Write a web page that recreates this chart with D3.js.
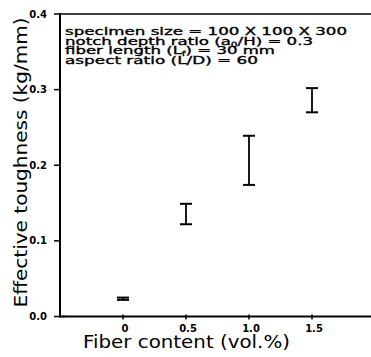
<!DOCTYPE html>
<html>
<head>
<meta charset="utf-8">
<script src="https://cdn.jsdelivr.net/npm/d3@7"></script>
<style>
  body { margin: 0; background: #fff; }
  svg { display: block; }
  text { font-family: "DejaVu Sans", sans-serif; fill: #000; }
</style>
</head>
<body>
<div id="chart"></div>
<script>
// fiber content (vol.%) and toughness range (kg/mm)
var fiberContent = [0, 0.5, 1.0, 1.5];
var toughLow = [0.022, 0.122, 0.174, 0.270];
var toughHigh = [0.025, 0.149, 0.239, 0.302];
var xTicks = [0, 0.5, 1.0, 1.5];
var xTickLabels = ["0", "0.5", "1.0", "1.5"];
var yTicks = [0.0, 0.1, 0.2, 0.3, 0.4];

var width = 371, height = 357;

var svg = d3.select("#chart")
  .append("svg")
  .attr("width", width)
  .attr("height", height);

var x = d3.scaleLinear()
  .domain([-0.5, 2.0])
  .range([60, 375]);

var y = d3.scaleLinear()
  .domain([0, 0.4])
  .range([316.5, 14]);

var x0 = 60;

// frame lines: left, bottom, top
svg.append("line")
  .attr("x1", x0).attr("x2", x0)
  .attr("y1", y(0.4) - 1).attr("y2", y(0) + 1)
  .attr("stroke", "#000").attr("stroke-width", 2);
svg.append("line")
  .attr("x1", x0).attr("x2", width)
  .attr("y1", y(0)).attr("y2", y(0))
  .attr("stroke", "#000").attr("stroke-width", 2);
svg.append("line")
  .attr("x1", x0).attr("x2", width)
  .attr("y1", y(0.4)).attr("y2", y(0.4))
  .attr("stroke", "#000").attr("stroke-width", 1.5);

// y ticks
var yAxis = svg.append("g");
yAxis.selectAll("line")
  .data(yTicks)
  .enter()
  .append("line")
  .attr("x1", x0 - 6).attr("x2", function (d) { return d == 0 ? x0 + 5 : x0; })
  .attr("y1", function (d) { return y(d); })
  .attr("y2", function (d) { return y(d); })
  .attr("stroke", "#000").attr("stroke-width", 1.5);
yAxis.selectAll("text")
  .data(yTicks)
  .enter()
  .append("text")
  .attr("x", 47)
  .attr("y", function (d) { return y(d) + 3.5; })
  .attr("text-anchor", "end")
  .style("font-size", "10px")
  .style("font-weight", "bold")
  .text(function (d) { return d.toFixed(1); });

// x ticks
var xAxis = svg.append("g");
xAxis.selectAll("line")
  .data(xTicks)
  .enter()
  .append("line")
  .attr("x1", function (d) { return x(d); })
  .attr("x2", function (d) { return x(d); })
  .attr("y1", y(0) - 2).attr("y2", y(0) + 3)
  .attr("stroke", "#000").attr("stroke-width", 1.5);
xAxis.selectAll("text")
  .data(xTicks)
  .enter()
  .append("text")
  .attr("x", function (d) { return x(d) + 2; })
  .attr("y", 332)
  .attr("text-anchor", "middle")
  .style("font-size", "10px")
  .style("font-weight", "bold")
  .text(function (d, i) { return xTickLabels[i]; });

// error bars
var data = fiberContent.map(function (f, i) {
  return { x: f, lo: toughLow[i], hi: toughHigh[i] };
});
var cap = 6;
var bars = svg.selectAll(".bar")
  .data(data)
  .enter()
  .append("g")
  .attr("class", "bar");
bars.append("line")
  .attr("x1", function (d) { return x(d.x); })
  .attr("x2", function (d) { return x(d.x); })
  .attr("y1", function (d) { return y(d.hi); })
  .attr("y2", function (d) { return y(d.lo); })
  .attr("stroke", "#000").attr("stroke-width", 1.8);
bars.append("line")
  .attr("x1", function (d) { return x(d.x) - cap; })
  .attr("x2", function (d) { return x(d.x) + cap; })
  .attr("y1", function (d) { return y(d.hi); })
  .attr("y2", function (d) { return y(d.hi); })
  .attr("stroke", "#000").attr("stroke-width", 2);
bars.append("line")
  .attr("x1", function (d) { return x(d.x) - cap; })
  .attr("x2", function (d) { return x(d.x) + cap; })
  .attr("y1", function (d) { return y(d.lo); })
  .attr("y2", function (d) { return y(d.lo); })
  .attr("stroke", "#000").attr("stroke-width", 2);

// axis titles
svg.append("text")
  .attr("x", 186.5)
  .attr("y", 348)
  .attr("text-anchor", "middle")
  .attr("textLength", 207)
  .attr("lengthAdjust", "spacingAndGlyphs")
  .style("font-size", "17px")
  .text("Fiber content (vol.%)");

svg.append("text")
  .attr("transform", "translate(27,162.5) rotate(-90)")
  .attr("text-anchor", "middle")
  .attr("textLength", 290)
  .attr("lengthAdjust", "spacingAndGlyphs")
  .style("font-size", "18px")
  .text("Effective toughness (kg/mm)");

// annotation
var note = svg.append("g")
  .style("font-size", "11px")
  .style("stroke", "#000")
  .style("stroke-width", 0.35);

function sub(t, main, s) {
  t.append("tspan").text(main);
  t.append("tspan").attr("dy", 2).style("font-size", "7px").text(s);
  return t;
}

var t1 = note.append("text").attr("x", 65).attr("y", 35)
  .attr("textLength", 282).attr("lengthAdjust", "spacingAndGlyphs");
t1.text("specimen size = 100 X 100 X 300");

var t2 = note.append("text").attr("x", 65).attr("y", 44.5)
  .attr("textLength", 248).attr("lengthAdjust", "spacingAndGlyphs");
sub(t2, "notch depth ratio (a", "0");
t2.append("tspan").attr("dy", -2).text("/H) = 0.3");

var t3 = note.append("text").attr("x", 65).attr("y", 54)
  .attr("textLength", 210).attr("lengthAdjust", "spacingAndGlyphs");
sub(t3, "fiber length (L", "f");
t3.append("tspan").attr("dy", -2).text(") = 30 mm");

var t4 = note.append("text").attr("x", 65).attr("y", 63.5)
  .attr("textLength", 193).attr("lengthAdjust", "spacingAndGlyphs");
t4.text("aspect ratio (L/D) = 60");
</script>
</body>
</html>
